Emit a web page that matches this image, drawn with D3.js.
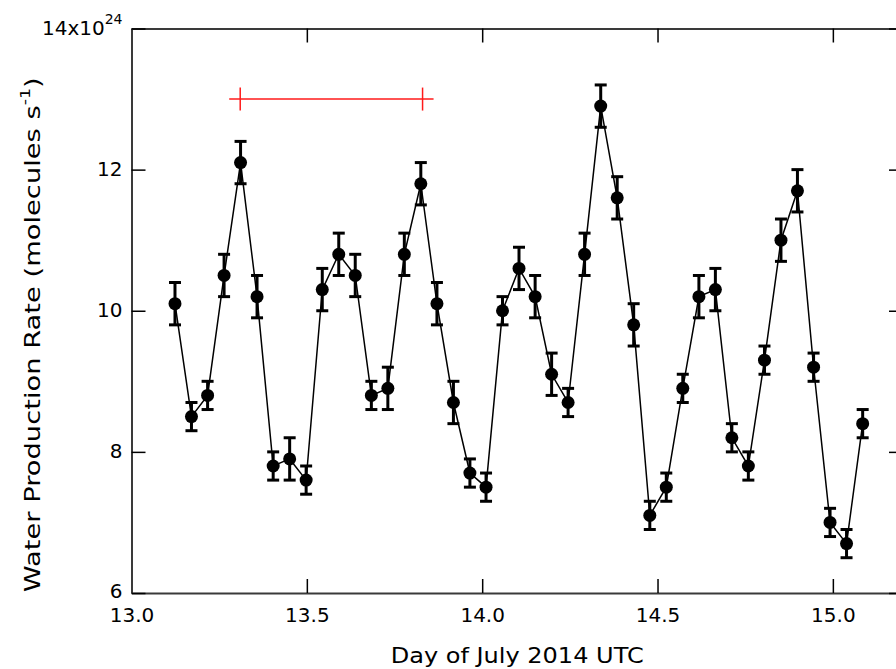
<!DOCTYPE html>
<html>
<head>
<meta charset="utf-8">
<script src="https://cdn.jsdelivr.net/npm/d3@7"></script>
<style>
body { margin: 0; background: #fff; }
text { font-family: "DejaVu Sans", sans-serif; fill: #000; }
</style>
</head>
<body>
<div id="chart"></div>
<script>
// day of July 2014 (UTC) for each measurement
const days = [13.124, 13.171, 13.217, 13.264, 13.311, 13.358, 13.404, 13.451, 13.498, 13.544,
              13.591, 13.638, 13.684, 13.731, 13.778, 13.825, 13.871, 13.918, 13.965, 14.011,
              14.058, 14.105, 14.151, 14.198, 14.245, 14.292, 14.338, 14.385, 14.432, 14.478,
              14.525, 14.572, 14.618, 14.665, 14.712, 14.759, 14.805, 14.852, 14.899, 14.945,
              14.992, 15.039, 15.085];
// water production rate, units of 1e24 molecules/s
const rates = [10.1, 8.5, 8.8, 10.5, 12.1, 10.2, 7.8, 7.9, 7.6, 10.3,
               10.8, 10.5, 8.8, 8.9, 10.8, 11.8, 10.1, 8.7, 7.7, 7.5,
               10.0, 10.6, 10.2, 9.1, 8.7, 10.8, 12.9, 11.6, 9.8, 7.1,
               7.5, 8.9, 10.2, 10.3, 8.2, 7.8, 9.3, 11.0, 11.7, 9.2,
               7.0, 6.7, 8.4];
const errs = [0.3, 0.2, 0.2, 0.3, 0.3, 0.3, 0.2, 0.3, 0.2, 0.3,
              0.3, 0.3, 0.2, 0.3, 0.3, 0.3, 0.3, 0.3, 0.2, 0.2,
              0.2, 0.3, 0.3, 0.3, 0.2, 0.3, 0.3, 0.3, 0.3, 0.2,
              0.2, 0.2, 0.3, 0.3, 0.2, 0.2, 0.2, 0.3, 0.3, 0.2,
              0.2, 0.2, 0.2];
const xTicks = [13.0, 13.5, 14.0, 14.5, 15.0];
const yTicks = [6, 8, 10, 12, 14];
// rotation period marker (red)
const periodDays = [13.31, 13.83];
const periodRate = 13.0;

const margin = {top: 28.5, right: -7, bottom: 76, left: 131.5},
    width = 896 - margin.left - margin.right,
    height = 669 - margin.top - margin.bottom;

const svg = d3.select("#chart").append("svg")
    .attr("width", 896)
    .attr("height", 669)
    .append("g")
    .attr("transform", `translate(${margin.left}, ${margin.top})`);

const data = days.map((d, i) => ({day: d, rate: rates[i], err: errs[i]}));

const xScale = d3.scaleLinear().domain([13.0, 15.2]).range([0, width]);
const yScale = d3.scaleLinear().domain([6, 14]).range([height, 0]);

const styleAxis = g => {
    g.select(".domain").attr("stroke", "#3a3a3a").attr("stroke-width", 2);
    g.selectAll(".tick line").attr("stroke", "#000").attr("stroke-width", 1.5);
    g.selectAll(".tick text").attr("font-size", 20).attr("fill", "#000")
        .style("font-family", '"DejaVu Sans", sans-serif');
};

// bottom axis
svg.append("g")
    .attr("transform", `translate(0, ${height})`)
    .call(d3.axisBottom(xScale).tickValues(xTicks).tickFormat(d3.format(".1f"))
        .tickSizeInner(-14).tickSizeOuter(0).tickPadding(14))
    .call(styleAxis)
    .call(g => g.selectAll(".tick text").attr("dy", "0.75em"));

// top axis
svg.append("g")
    .call(d3.axisTop(xScale).tickValues(xTicks).tickFormat("")
        .tickSizeInner(-14).tickSizeOuter(0))
    .call(styleAxis);

// left axis
svg.append("g")
    .call(d3.axisLeft(yScale).tickValues(yTicks).tickFormat(d => d === 14 ? "" : d)
        .tickSizeInner(-14).tickSizeOuter(0).tickPadding(9))
    .call(styleAxis)
    .call(g => g.selectAll(".tick text").attr("dy", d => d === 6 ? "0.2em" : "0.3em"));

// right axis (mostly off the page)
svg.append("g")
    .attr("transform", `translate(${width}, 0)`)
    .call(d3.axisRight(yScale).tickValues(yTicks).tickFormat("")
        .tickSizeInner(-14).tickSizeOuter(0))
    .call(styleAxis);

// top tick label with exponent
const topLabel = svg.append("text")
    .attr("x", -9)
    .attr("y", yScale(14))
    .attr("dy", "0.3em")
    .attr("text-anchor", "end")
    .attr("font-size", 20);
topLabel.append("tspan").text("14x10");
topLabel.append("tspan").attr("font-size", 14).attr("dy", "-0.75em").text("24");

// connecting line
svg.append("path")
    .datum(data)
    .attr("fill", "none")
    .attr("stroke", "#000")
    .attr("stroke-width", 1.5)
    .attr("d", d3.line().x(d => xScale(d.day)).y(d => yScale(d.rate)));

// error bars
const bars = svg.append("g").attr("stroke", "#000").attr("stroke-width", 3);
bars.selectAll(".stem")
    .data(data)
    .join("line")
    .attr("x1", d => xScale(d.day)).attr("x2", d => xScale(d.day))
    .attr("y1", d => yScale(d.rate - d.err)).attr("y2", d => yScale(d.rate + d.err));
bars.selectAll(".capTop")
    .data(data)
    .join("line")
    .attr("x1", d => xScale(d.day) - 6).attr("x2", d => xScale(d.day) + 6)
    .attr("y1", d => yScale(d.rate + d.err)).attr("y2", d => yScale(d.rate + d.err));
bars.selectAll(".capBottom")
    .data(data)
    .join("line")
    .attr("x1", d => xScale(d.day) - 6).attr("x2", d => xScale(d.day) + 6)
    .attr("y1", d => yScale(d.rate - d.err)).attr("y2", d => yScale(d.rate - d.err));

// markers
svg.append("g")
    .selectAll("circle")
    .data(data)
    .join("circle")
    .attr("cx", d => xScale(d.day))
    .attr("cy", d => yScale(d.rate))
    .attr("r", 6.5)
    .attr("fill", "#000");

// rotation period bar
const red = svg.append("g").attr("stroke", "#ff1a1a").attr("stroke-width", 1.5);
red.append("line")
    .attr("x1", xScale(periodDays[0]) - 11).attr("x2", xScale(periodDays[1]) + 11)
    .attr("y1", yScale(periodRate)).attr("y2", yScale(periodRate));
red.selectAll(".end")
    .data(periodDays)
    .join("line")
    .attr("x1", d => xScale(d)).attr("x2", d => xScale(d))
    .attr("y1", yScale(periodRate) - 11.5).attr("y2", yScale(periodRate) + 11.5);

// axis titles
svg.append("text")
    .attr("x", xScale(14.0) + 35)
    .attr("y", height + 70)
    .attr("text-anchor", "middle")
    .attr("font-size", 22)
    .attr("textLength", 253)
    .attr("lengthAdjust", "spacingAndGlyphs")
    .text("Day of July 2014 UTC");

const yTitle = svg.append("text")
    .attr("transform", `translate(${-margin.left + 40}, ${height / 2 + 24}) rotate(-90)`)
    .attr("text-anchor", "middle")
    .attr("font-size", 22)
    .attr("textLength", 515)
    .attr("lengthAdjust", "spacingAndGlyphs");
yTitle.append("tspan").text("Water Production Rate (molecules s");
yTitle.append("tspan").attr("font-size", 14).attr("dy", "-0.7em").text("-1");
yTitle.append("tspan").attr("dy", "0.45em").text(")");
</script>
</body>
</html>
